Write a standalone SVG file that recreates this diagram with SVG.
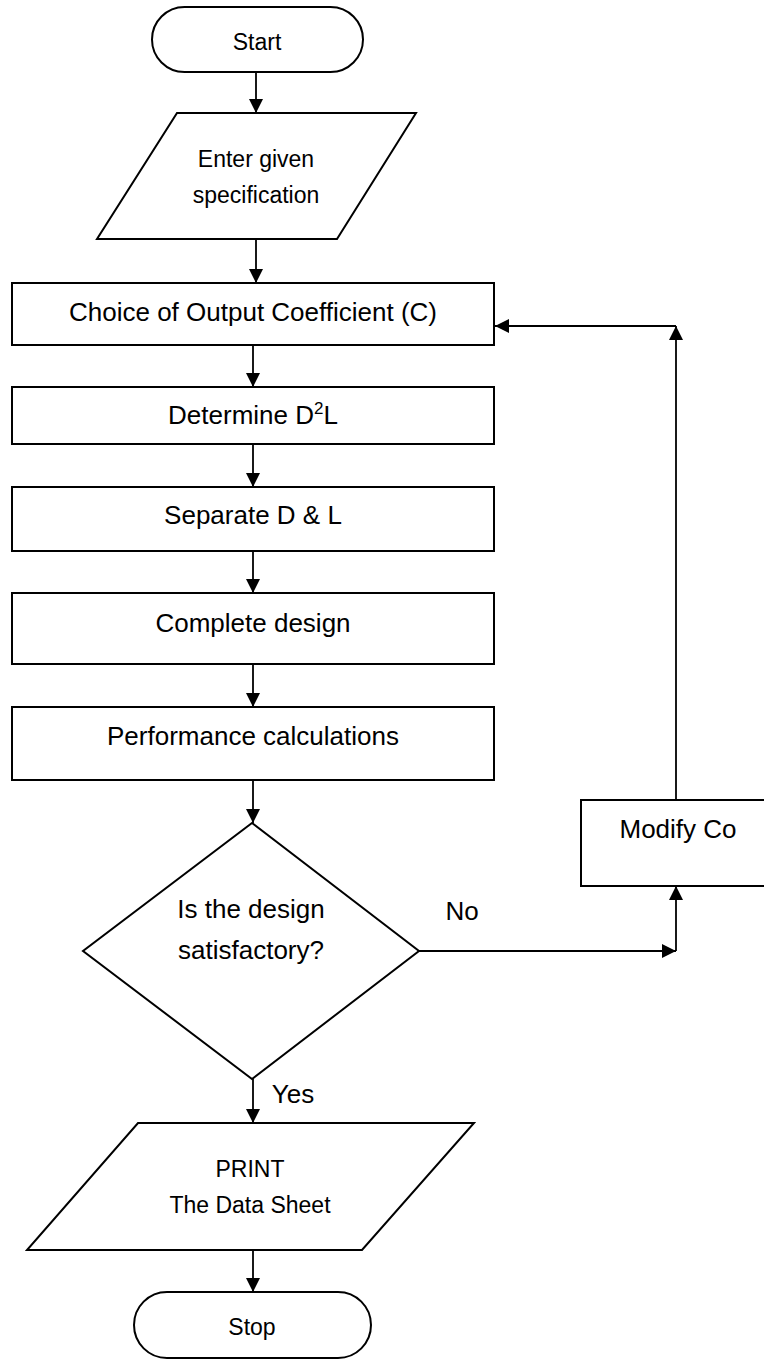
<svg xmlns="http://www.w3.org/2000/svg" width="764" height="1359" viewBox="0 0 764 1359">
<style>
.shape{fill:#fff;stroke:#000;stroke-width:2}
.conn{fill:none;stroke:#000;stroke-width:1.8}
text{font-family:"Liberation Sans",Arial,sans-serif;fill:#000;text-anchor:middle}
.big{font-size:26px}
.small{font-size:23px}
</style>
<defs>
<marker id="arr" markerUnits="userSpaceOnUse" markerWidth="16" markerHeight="16" viewBox="0 0 16 16" refX="15" refY="8" orient="auto">
<path d="M1,1 L15,8 L1,15 Z" fill="#000"/>
</marker>
</defs>
<rect width="764" height="1359" fill="#fff"/>
<g id="connectors">
<line class="conn" x1="256" y1="72" x2="256" y2="113" marker-end="url(#arr)"/>
<line class="conn" x1="256" y1="239" x2="256" y2="283" marker-end="url(#arr)"/>
<line class="conn" x1="253" y1="345" x2="253" y2="387" marker-end="url(#arr)"/>
<line class="conn" x1="253" y1="444" x2="253" y2="487" marker-end="url(#arr)"/>
<line class="conn" x1="253" y1="551" x2="253" y2="593" marker-end="url(#arr)"/>
<line class="conn" x1="253" y1="664" x2="253" y2="707" marker-end="url(#arr)"/>
<line class="conn" x1="253" y1="780" x2="253" y2="823" marker-end="url(#arr)"/>
<line class="conn" x1="253" y1="1079" x2="253" y2="1123" marker-end="url(#arr)"/>
<line class="conn" x1="253" y1="1250" x2="253" y2="1292" marker-end="url(#arr)"/>
<line class="conn" x1="419" y1="951" x2="676" y2="951" marker-end="url(#arr)"/>
<line class="conn" x1="676" y1="951" x2="676" y2="886" marker-end="url(#arr)"/>
<line class="conn" x1="676" y1="800" x2="676" y2="326" marker-end="url(#arr)"/>
<line class="conn" x1="676" y1="326" x2="495" y2="326" marker-end="url(#arr)"/>
<text class="big" x="462" y="920">No</text>
<text class="big" x="293" y="1103">Yes</text>
</g>
<g id="start">
<rect class="shape" x="152" y="7" width="211" height="65" rx="32.5" ry="32.5"/>
<text class="small" x="257" y="50">Start</text>
</g>
<g id="input">
<polygon class="shape" points="177,113 416,113 337,239 97,239"/>
<text class="small" x="256" y="167">Enter given</text>
<text class="small" x="256" y="203">specification</text>
</g>
<g id="choice">
<rect class="shape" x="12" y="283" width="482" height="62"/>
<text class="big" x="253" y="321">Choice of Output Coefficient (C)</text>
</g>
<g id="determine">
<rect class="shape" x="12" y="387" width="482" height="57"/>
<text class="big" x="253" y="424">Determine D<tspan font-size="17" dy="-10">2</tspan><tspan dy="10">L</tspan></text>
</g>
<g id="separate">
<rect class="shape" x="12" y="487" width="482" height="64"/>
<text class="big" x="253" y="524">Separate D &amp; L</text>
</g>
<g id="complete">
<rect class="shape" x="12" y="593" width="482" height="71"/>
<text class="big" x="253" y="632">Complete design</text>
</g>
<g id="performance">
<rect class="shape" x="12" y="707" width="482" height="73"/>
<text class="big" x="253" y="745">Performance calculations</text>
</g>
<g id="decision">
<polygon class="shape" points="252,823 419,951 252,1079 83,951"/>
<text class="big" x="251" y="918">Is the design</text>
<text class="big" x="251" y="959">satisfactory?</text>
</g>
<g id="modify">
<rect class="shape" x="581" y="800" width="190" height="86"/>
<text class="big" x="678" y="838">Modify Co</text>
</g>
<g id="print">
<polygon class="shape" points="138,1123 474,1123 362,1250 27,1250"/>
<text class="small" x="250" y="1177">PRINT</text>
<text class="small" x="250" y="1213">The Data Sheet</text>
</g>
<g id="stop">
<rect class="shape" x="134" y="1292" width="237" height="66" rx="33" ry="33"/>
<text class="small" x="252" y="1335">Stop</text>
</g>
</svg>
